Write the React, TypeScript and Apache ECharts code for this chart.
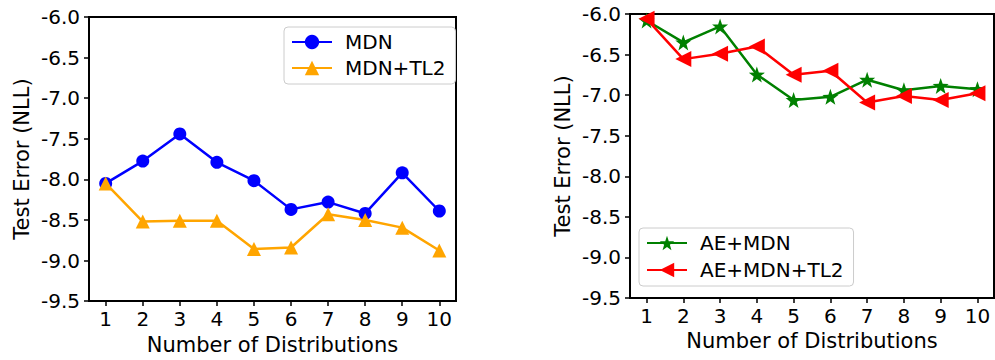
import React, { useEffect, useRef } from "react";
import * as echarts from "echarts";

const distributions = [1, 2, 3, 4, 5, 6, 7, 8, 9, 10];
const xTickValues = [1, 2, 3, 4, 5, 6, 7, 8, 9, 10];
const mdn = [-8.05, -7.775, -7.44, -7.79, -8.016, -8.37, -8.28, -8.42, -7.92, -8.39];
const mdnTl2 = [-8.05, -8.52, -8.51, -8.51, -8.857, -8.84, -8.43, -8.5, -8.595, -8.876];
const aeMdn = [-6.08, -6.35, -6.153, -6.746, -7.06, -7.02, -6.81, -6.94, -6.886, -6.926];
const aeMdnTl2 = [-6.06, -6.556, -6.49, -6.4, -6.75, -6.7, -7.09, -7.01, -7.06, -6.976];

const FONT = "DejaVu Sans";
const STAR = "path://M0,-10 L2.35,-3.24 L9.51,-3.09 L3.8,1.24 L5.88,8.09 L0,4 L-5.88,8.09 L-3.8,1.24 L-9.51,-3.09 L-2.35,-3.24 Z";

const pairs = (ys: number[]) => distributions.map((d, i) => [d, ys[i]]);

function makeX(gridIndex: number) {
  return {
    type: "value",
    gridIndex,
    min: 0.55,
    max: 10.45,
    name: "Number of Distributions",
    nameLocation: "middle",
    nameGap: 31,
    nameTextStyle: { fontFamily: FONT, fontSize: 21, color: "#000" },
    axisLine: { show: false, onZero: false },
    axisTick: { show: true, length: 5, inside: false, customValues: xTickValues, lineStyle: { color: "#000", width: 1.5 } },
    axisLabel: { customValues: xTickValues, fontFamily: FONT, fontSize: 20, color: "#000", margin: 8 },
    splitLine: { show: false },
  };
}

function makeY(gridIndex: number) {
  return {
    type: "value",
    gridIndex,
    min: -9.5,
    max: -6,
    interval: 0.5,
    name: "Test Error (NLL)",
    nameLocation: "middle",
    nameGap: 57,
    nameTextStyle: { fontFamily: FONT, fontSize: 21, color: "#000" },
    axisLine: { show: false, onZero: false },
    axisTick: { show: true, length: 5, inside: false, lineStyle: { color: "#000", width: 1.5 } },
    axisLabel: {
      fontFamily: FONT,
      fontSize: 20,
      color: "#000",
      margin: 9,
      formatter: (v: number) => v.toFixed(1),
    },
    splitLine: { show: false },
  };
}

function makeSeries(name: string, ys: number[], idx: number, color: string, symbol: string, size: number, rotate = 0) {
  return {
    type: "line",
    name,
    xAxisIndex: idx,
    yAxisIndex: idx,
    data: pairs(ys),
    symbol,
    symbolSize: size,
    symbolRotate: rotate,
    showAllSymbol: true,
    lineStyle: { color, width: 2.5 },
    itemStyle: { color, borderWidth: 0 },
  };
}

const legendCommon = {
  orient: "vertical",
  itemWidth: 40,
  itemHeight: 18,
  itemGap: 6,
  borderColor: "#cccccc",
  borderWidth: 1,
  borderRadius: 4,
  backgroundColor: "#fff",
  textStyle: { fontFamily: FONT, fontSize: 20, color: "#000", padding: [0, 0, 0, 8] },
};

export default function App() {
  const ref = useRef<HTMLDivElement>(null);
  useEffect(() => {
    if (!ref.current) return;
    const chart = echarts.init(ref.current, null, { renderer: "svg" });
    chart.setOption({
      animation: false,
      backgroundColor: "#fff",
      grid: [
        { left: 89, top: 17, width: 367, height: 286, show: true, borderColor: "#000", borderWidth: 2, backgroundColor: "transparent" },
        { left: 630, top: 14, width: 364, height: 284, show: true, borderColor: "#000", borderWidth: 2, backgroundColor: "transparent" },
      ],
      xAxis: [makeX(0), makeX(1)],
      yAxis: [makeY(0), makeY(1)],
      legend: [
        { ...legendCommon, data: ["MDN", "MDN+TL2"], left: 284, top: 27, padding: [5, 10, 6, 7] },
        { ...legendCommon, itemGap: 7, data: ["AE+MDN", "AE+MDN+TL2"], left: 639, top: 228, padding: [5, 10, 6, 7] },
      ],
      series: [
        makeSeries("MDN", mdn, 0, "#0000ff", "circle", 13),
        makeSeries("MDN+TL2", mdnTl2, 0, "#ffa500", "triangle", 14),
        makeSeries("AE+MDN", aeMdn, 1, "#008000", STAR, 16),
        makeSeries("AE+MDN+TL2", aeMdnTl2, 1, "#ff0000", "triangle", 16, 90),
      ],
    });
    return () => chart.dispose();
  }, []);
  return <div ref={ref} style={{ position: "absolute", left: 0, top: 0, width: 995, height: 360 }} />;
}
